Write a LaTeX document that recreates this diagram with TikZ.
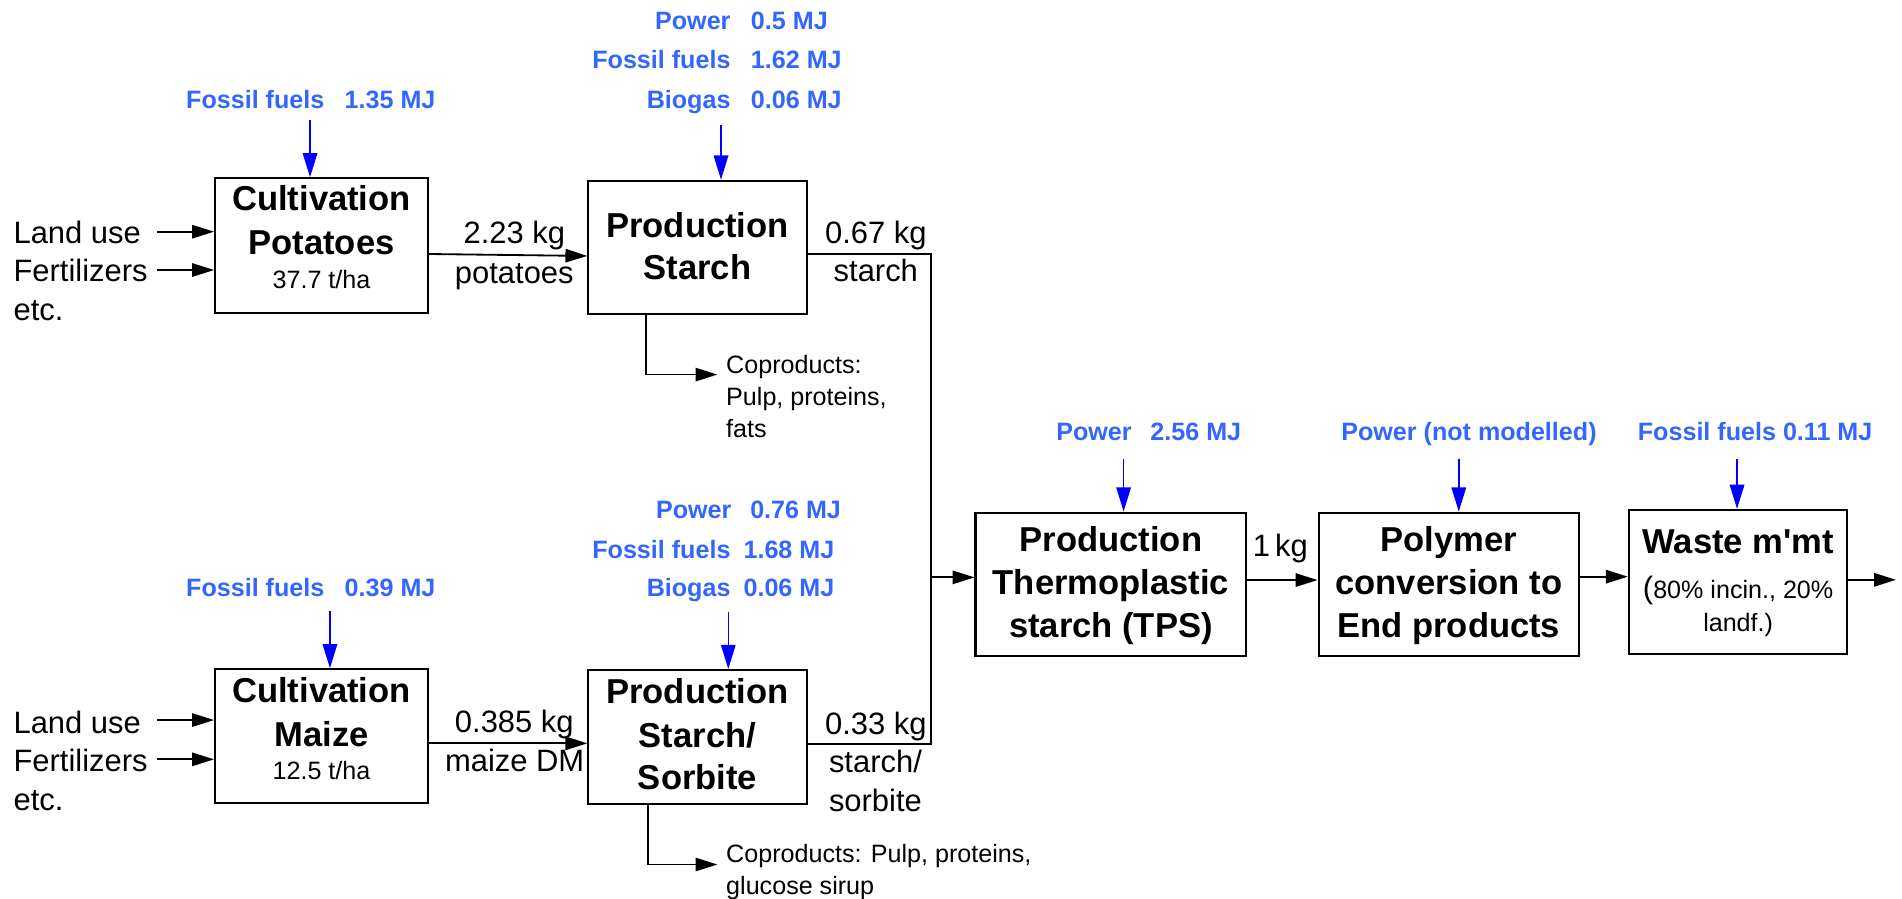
\documentclass[tikz,border=0pt]{standalone}
\usepackage{fontspec}
\setmainfont{Liberation Sans}
\newfontfamily\plainsans{Liberation Sans}
\usetikzlibrary{arrows.meta}
\definecolor{textblue}{RGB}{51,102,255}
\definecolor{arrowblue}{RGB}{0,0,255}
\tikzset{
  box/.style={draw, line width=1.7pt, inner sep=0pt},
  flow/.style={line width=1.5pt, -{Triangle[length=18pt,width=11pt]}},
  plain/.style={line width=1.5pt},
  energy/.style={line width=1.3pt, draw=arrowblue, -{Triangle[length=20pt,width=12pt]}},
  reg/.style={inner sep=0pt, font=\fontsize{25.5}{30}\selectfont},
  ttl/.style={inner sep=0pt, font=\bfseries\fontsize{28.5}{34}\selectfont},
  small/.style={inner sep=0pt, font=\fontsize{20.7}{25}\selectfont},
  etext/.style={inner sep=0pt, text=textblue, font=\bfseries\fontsize{20.7}{25}\selectfont},
}
\begin{document}
\begin{tikzpicture}[x=1pt,y=-1pt]
\useasboundingbox (0,0) rectangle (1568,741);

% ---------- boxes ----------
\node[box, minimum width=175.5pt, minimum height=110.8pt] (cp) at (265.05,202.4) {};
\node[box, minimum width=180pt, minimum height=110pt] (ps) at (575,204) {};
\node[box, minimum width=175.5pt, minimum height=110.5pt] (cm) at (265.05,607.05) {};
\node[box, minimum width=180pt, minimum height=110.6pt] (pss) at (575,607.7) {};
\node[box, minimum width=223.3pt, minimum height=118.4pt] (tps) at (915.85,481.8) {};
\node[box, minimum width=214.8pt, minimum height=118.4pt] (pol) at (1194.4,481.8) {};
\node[box, minimum width=180.2pt, minimum height=118.8pt] (waste) at (1432.9,479.8) {};

% ---------- box texts ----------
\node[ttl, anchor=base] (cp1) at (265.05,173.7) {Cultivation};
\node[ttl, anchor=base] (cp2) at (265.05,210.2) {Potatoes};
\node[small, anchor=base] (cp3) at (265.05,237.7) {37.7 t/ha};

\node[ttl, anchor=base] (ps1) at (575,195.6) {Production};
\node[ttl, anchor=base] (ps2) at (575,230.8) {Starch};

\node[ttl, anchor=base] (cm1) at (265.05,579.3) {Cultivation};
\node[ttl, anchor=base] (cm2) at (265.05,615) {Maize};
\node[small, anchor=base] (cm3) at (265.05,642.5) {12.5 t/ha};

\node[ttl, anchor=base] (pss1) at (575,580) {Production};
\node[ttl, anchor=base] (pss2) at (575,616) {Starch/};
\node[ttl, anchor=base] (pss3) at (575,651.2) {Sorbite};

\node[ttl, anchor=base] (tps1) at (915.85,454.8) {Production};
\node[ttl, anchor=base] (tps2) at (915.85,490.5) {Thermoplastic};
\node[ttl, anchor=base] (tps3) at (915.85,525.4) {starch (TPS)};

\node[ttl, anchor=base] (pol1) at (1194.4,454.8) {Polymer};
\node[ttl, anchor=base] (pol2) at (1194.4,490.5) {conversion to};
\node[ttl, anchor=base] (pol3) at (1194.4,525.4) {End products};

\node[ttl, anchor=base] (w1) at (1432.9,456.7) {\plainsans\bfseries Waste m'mt};
\node[small, anchor=base] (w2) at (1432.9,493.3) {{\fontsize{25.5}{30}\selectfont(}80\% incin., 20\%};
\node[small, anchor=base] (w3) at (1432.9,520.8) {landf.)};

% ---------- left inputs ----------
\node[reg, anchor=base west] (lu1) at (11,201) {Land use};
\node[reg, anchor=base west] (fe1) at (11,232.2) {Fertilizers};
\node[reg, anchor=base west] (et1) at (11,264) {etc.};
\node[reg, anchor=base west] (lu2) at (11,604.6) {Land use};
\node[reg, anchor=base west] (fe2) at (11,636.2) {Fertilizers};
\node[reg, anchor=base west] (et2) at (11,667.8) {etc.};

\coordinate (a1) at (129.4,191);
\coordinate (a2) at (129.4,222.6);
\coordinate (a3) at (129.4,593.6);
\coordinate (a4) at (129.4,626);
\draw[flow] (a1) -- (a1 -| cp.west);
\draw[flow] (a2) -- (a2 -| cp.west);
\draw[flow] (a3) -- (a3 -| cm.west);
\draw[flow] (a4) -- (a4 -| cm.west);

% ---------- flow labels ----------
\node[reg, anchor=base] (l1a) at (424,201) {2.23 kg};
\node[reg, anchor=base] (l1b) at (424,233.6) {potatoes};
\node[reg, anchor=base] (l2a) at (722,200.6) {0.67 kg};
\node[reg, anchor=base] (l2b) at (722,232.2) {starch};
\node[reg, anchor=base] (l3a) at (424,603.7) {0.385 kg};
\node[reg, anchor=base] (l3b) at (424.3,636.2) {maize DM};
\node[reg, anchor=base] (l4a) at (722,605.4) {0.33 kg};
\node[reg, anchor=base] (l4b) at (721.7,637) {starch/};
\node[reg, anchor=base] (l4c) at (721.7,668.6) {sorbite};
\node[reg, anchor=base] (l5) at (1055.5,458.9) {1\,kg};

% ---------- main flows ----------
\draw[flow] ([yshift=-7pt]cp.east) -- ([yshift=-7pt]ps.west);
\draw[flow] ([yshift=-5.75pt]cm.east) -- ([yshift=-5.1pt]pss.west);

\coordinate (jt) at (767.2,209.4);
\coordinate (jb) at (767.2,613.4);
\coordinate (jm) at (767.2,476);
\draw[plain] (ps.east |- jt) -- (jt) -- (jb) -- (pss.east |- jb);
\draw[flow] (jm) -- (jm -| tps.west);
\draw[flow] ([yshift=3.6pt]tps.east) -- ([yshift=3.6pt]pol.west);
\draw[flow] ([yshift=6.4pt]pol.east) -- ([yshift=4.4pt]waste.west);
\coordinate (out) at (1563,478);
\draw[flow] (waste.east |- out) -- (out);

% ---------- coproducts ----------
\coordinate (c1) at (532.6,308.8);
\coordinate (c1e) at (591.4,308.8);
\draw[flow] (c1 |- ps.south) -- (c1) -- (c1e);
\node[small, anchor=base west] (cop1a) at (598.5,307.9) {Coproducts:};
\node[small, anchor=base west] (cop1b) at (598.5,334) {Pulp, proteins,};
\node[small, anchor=base west] (cop1c) at (598.5,360.3) {fats};

\coordinate (c2) at (534.5,712.7);
\coordinate (c2e) at (591.4,712.7);
\draw[flow] (c2 |- pss.south) -- (c2) -- (c2e);
\node[small, anchor=base west] (cop2a) at (598.5,711) {Coproducts: Pulp, proteins,};
\node[small, anchor=base west] (cop2b) at (598.5,737.8) {glucose sirup};

% ---------- energy inputs ----------
\node[etext, anchor=base east] (e1l) at (267.6,89.3) {Fossil fuels};
\node[etext, anchor=base west] (e1v) at (284,89.3) {1.35 MJ};

\node[etext, anchor=base east] (e2l1) at (602.4,24.7) {Power};
\node[etext, anchor=base west] (e2v1) at (618.9,24.7) {0.5 MJ};
\node[etext, anchor=base east] (e2l2) at (602.4,56.3) {Fossil fuels};
\node[etext, anchor=base west] (e2v2) at (618.9,56.3) {1.62 MJ};
\node[etext, anchor=base east] (e2l3) at (602.4,89.3) {Biogas};
\node[etext, anchor=base west] (e2v3) at (618.9,89.3) {0.06 MJ};

\node[etext, anchor=base east] (e3l) at (267.6,491.9) {Fossil fuels};
\node[etext, anchor=base west] (e3v) at (284,491.9) {0.39 MJ};

\node[etext, anchor=base east] (e4l1) at (603.2,427.8) {Power};
\node[etext, anchor=base west] (e4v1) at (618.3,427.8) {0.76 MJ};
\node[etext, anchor=base east] (e4l2) at (602.4,460.3) {Fossil fuels};
\node[etext, anchor=base west] (e4v2) at (612.8,460.3) {1.68 MJ};
\node[etext, anchor=base east] (e4l3) at (602.4,491.9) {Biogas};
\node[etext, anchor=base west] (e4v3) at (612.8,491.9) {0.06 MJ};

\node[etext, anchor=base west] (e5l) at (870.6,363.3) {Power};
\node[etext, anchor=base east] (e5v) at (1023.4,363.3) {2.56 MJ};
\node[etext, anchor=base] (e6) at (1211,363.3) {Power (not modelled)};
\node[etext, anchor=base] (e7) at (1446.9,363.3) {Fossil fuels 0.11 MJ};

\coordinate (b1) at (255.6,99);
\coordinate (b2) at (594.4,103);
\coordinate (b3) at (272,503.7);
\coordinate (b4) at (600.4,504.5);
\coordinate (b5) at (926.3,378.7);
\coordinate (b6) at (1202.6,378.7);
\coordinate (b7) at (1432,378.7);
\draw[energy] (b1) -- (b1 |- cp.north);
\draw[energy] (b2) -- (b2 |- ps.north);
\draw[energy] (b3) -- (b3 |- cm.north);
\draw[energy] (b4) -- (b4 |- pss.north);
\draw[energy] (b5) -- (b5 |- tps.north);
\draw[energy] (b6) -- (b6 |- pol.north);
\draw[energy] (b7) -- (b7 |- waste.north);
\end{tikzpicture}
\end{document}
